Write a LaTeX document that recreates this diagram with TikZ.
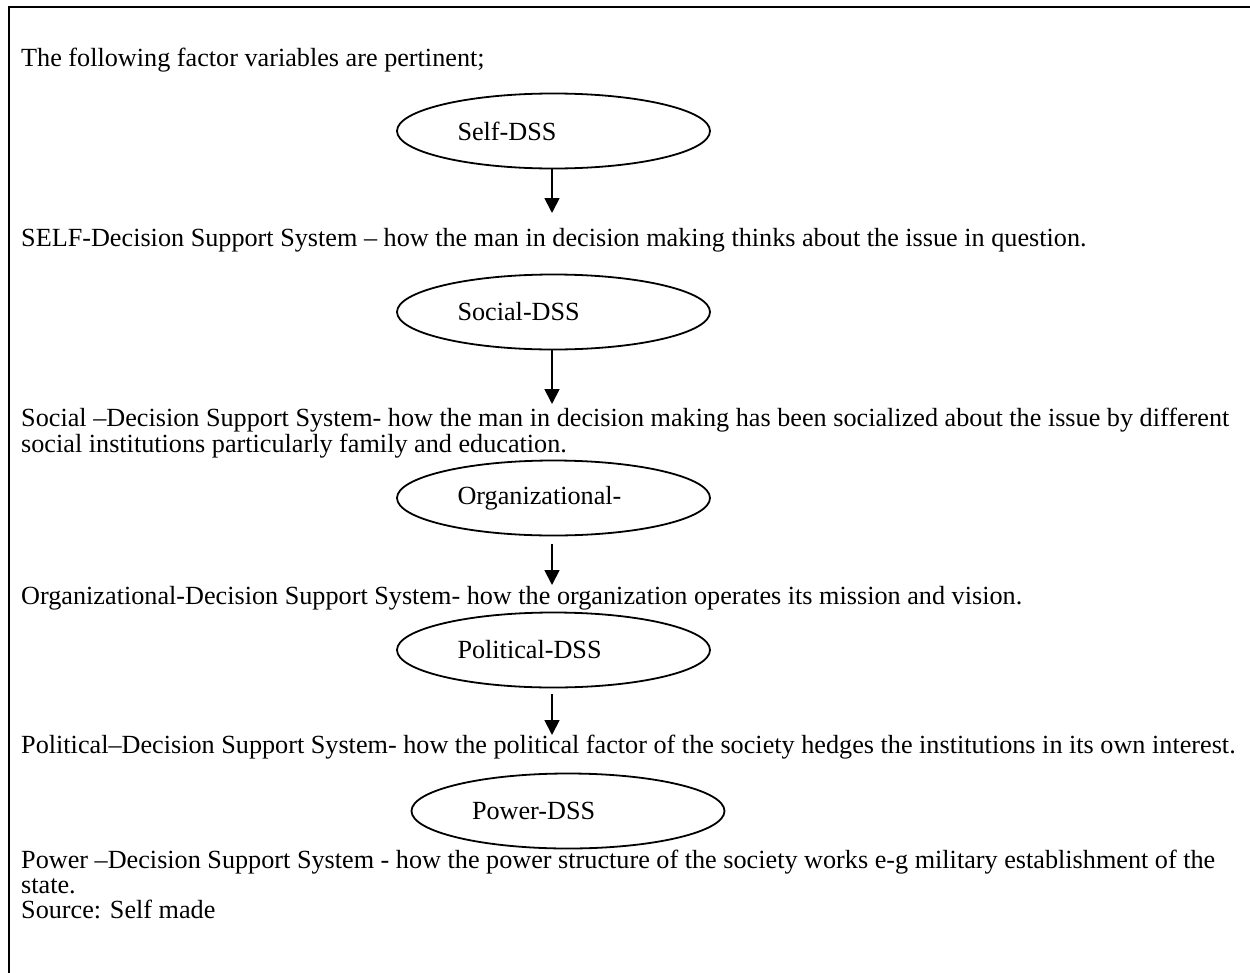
\documentclass[tikz,border=0pt]{standalone}
\usepackage{fontspec}
\setmainfont{Liberation Serif}
\usetikzlibrary{arrows.meta,shapes.geometric}
\begin{document}
\begin{tikzpicture}[x=1pt,y=-1pt,
  oval/.style={draw, line width=1.8pt, ellipse, inner sep=0pt, minimum width=313pt, minimum height=75pt, font=\fontsize{26.2}{28}\selectfont},
  para/.style={anchor=base west, inner sep=0pt, align=left, font=\fontsize{26.2}{26}\selectfont},
  flow/.style={line width=1.8pt, -{Triangle[width=15pt,length=15pt]}},
  frame/.style={line width=2.5pt}]
\useasboundingbox (0,0) rectangle (1250,972);
% frame (only top and left edges visible)
\coordinate (fTL) at (9,7);
\coordinate (fTR) at (1252,7);
\coordinate (fBL) at (9,974);
\draw[frame] (fTR) -- (fTL) -- (fBL);
% paragraphs (base anchor = baseline of the last line)
\node[para] (t1) at (21,66) {The following factor variables are pertinent;};
\node[para] (t2) at (21,246) {SELF-Decision Support System – how the man in decision making thinks about the issue in question.};
\node[para] (t3) at (21,452) {Social –Decision Support System- how the man in decision making has been socialized about the issue by different\\social institutions particularly family and education.};
\node[para] (t4) at (21,604) {Organizational-Decision Support System- how the organization operates its mission and vision.};
\node[para] (t5) at (21,753) {Political–Decision Support System- how the political factor of the society hedges the institutions in its own interest.};
\node[para, font=\fontsize{26.2}{25}\selectfont] (t6) at (21,918) {Power –Decision Support System - how the power structure of the society works e-g military establishment of the\\state.\\Source: Self made};
% ellipses
\node[oval] (e1) at (553.5,131) {\makebox[192pt][l]{Self-DSS}};
\node[oval] (e2) at (553.5,312) {\makebox[192pt][l]{Social-DSS}};
\node[oval] (e3) at (553.5,498) {\makebox[192pt][l]{Organizational-}};
\node[oval] (e4) at (553.5,650) {\makebox[192pt][l]{Political-DSS}};
\node[oval] (e5) at (568,811) {\makebox[192pt][l]{Power-DSS}};
% arrow ends
\coordinate (a1) at (552,213);
\coordinate (a2) at (552,404);
\coordinate (a3) at (552,585);
\coordinate (a4) at (552,735);
\draw[flow] (e1.south -| a1) -- (a1);
\draw[flow] (e2.south -| a2) -- (a2);
\draw[flow, shorten <=8pt] (e3.south -| a3) -- (a3);
\draw[flow, shorten <=6pt] (e4.south -| a4) -- (a4);
\end{tikzpicture}
\end{document}
